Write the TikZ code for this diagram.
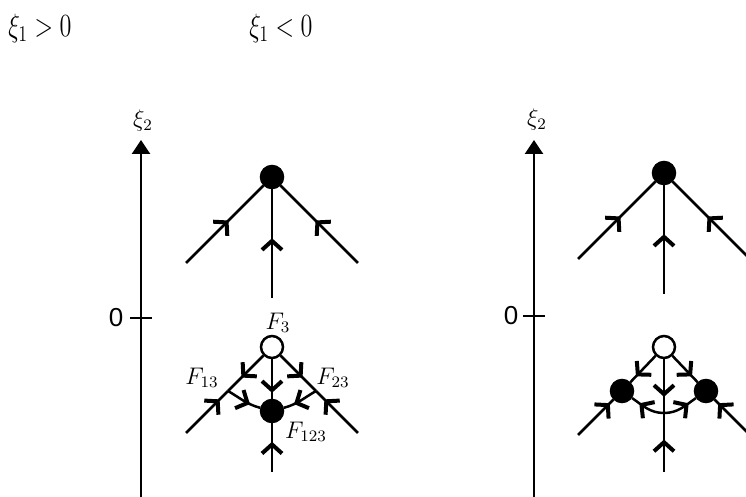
\documentclass[tikz,border=0pt]{standalone}
\usepackage{fontspec}
\usetikzlibrary{arrows.meta,decorations.markings}
\newfontfamily\axfont{Liberation Sans}
\tikzset{chev/.tip={Straight Barb[length=4.5pt, width=10pt, line width=2pt]}}

\begin{document}
\begin{tikzpicture}[x=0.5pt, y=0.5pt, line width=1.25pt,
dotf/.style={draw, circle, fill=black, minimum size=11pt, inner sep=0pt},
doto/.style={draw, circle, fill=white, minimum size=11pt, inner sep=0pt},
flw/.style={postaction={decorate}, decoration={markings, mark=at position #1 with {\arrow{chev}}}},
axs/.style={-{Triangle[length=7pt, width=9pt]}},
lbl/.style={inner sep=0pt, font=\fontsize{12}{14}\selectfont},
ttl/.style={anchor=base west, inner sep=0pt, font=\fontsize{14}{16}\selectfont}
]
\clip (0,0) rectangle (746,497);

% titles
\node[ttl] (t1) at (7,460) {\scalebox{0.84}[1.12]{$\xi_1 > 0$}};
\node[ttl] (t2) at (248,460) {\scalebox{0.84}[1.12]{$\xi_1 < 0$}};

% axes
\coordinate (a1) at (141,0); \coordinate (a1t) at (141,357); \coordinate (z1) at (141,179);
\coordinate (a2) at (534,0); \coordinate (a2t) at (534,357); \coordinate (z2) at (534,181);
\draw[axs] (a1) -- (a1t);
\draw[axs] (a2) -- (a2t);
\draw ([xshift=-5.5pt]z1) -- ([xshift=5.5pt]z1);
\draw ([xshift=-5.5pt]z2) -- ([xshift=5.5pt]z2);
\node[lbl, font=\fontsize{11.5}{13}\selectfont] (x1) at (143,376) {$\xi_2$};
\node[lbl, font=\fontsize{11.5}{13}\selectfont] (x2) at (537,377) {$\xi_2$};
\node[lbl, font=\axfont\fontsize{13}{15}\selectfont] (o1) at (116,179) {0};
\node[lbl, font=\axfont\fontsize{13}{15}\selectfont] (o2) at (511,181) {0};

% xi_1 > 0, top
\node[dotf] (P1) at (272,320) {};
\coordinate (L1) at (186,234); \coordinate (R1) at (358,234); \coordinate (B1) at (272,199);
\foreach \i/\j/\p in {L1/P1/0.55, R1/P1/0.55, B1/P1/0.55}{\draw[flw=\p] (\i) -- (\j);}

% xi_1 > 0, bottom
\node[doto] (O2) at (272,150) {};
\node[dotf] (D2) at (272,86) {};
\coordinate (BL) at (228,106); \coordinate (BR) at (316,106);
\coordinate (L2) at (186,64); \coordinate (R2) at (358,64); \coordinate (B2) at (272,25);
\foreach \i/\j/\p in {O2/BL/0.62, O2/BR/0.62, L2/BL/0.8, R2/BR/0.8, O2/D2/0.85, B2/D2/0.62}{\draw[flw=\p] (\i) -- (\j);}
\draw[flw=0.7] (BL) to[out=-30, in=165] (D2);
\draw[flw=0.7] (BR) to[out=210, in=15] (D2);
\node[lbl] (f3) at (278,174) {$F_3$};
\node[lbl] (f13) at (202,119) {$F_{13}$};
\node[lbl] (f23) at (333,119) {$F_{23}$};
\node[lbl] (f123) at (306,65) {$F_{123}$};

% xi_1 < 0, top
\node[dotf] (P3) at (664,324) {};
\coordinate (L3) at (578,238); \coordinate (R3) at (750,238); \coordinate (B3) at (664,203);
\foreach \i/\j/\p in {L3/P3/0.55, R3/P3/0.55, B3/P3/0.55}{\draw[flw=\p] (\i) -- (\j);}

% xi_1 < 0, bottom
\node[doto] (O4) at (664,150) {};
\node[dotf] (DL) at (622,106) {};
\node[dotf] (DR) at (706,106) {};
\coordinate (M) at (664,84);
\coordinate (L4) at (578,62); \coordinate (R4) at (750,62); \coordinate (B4) at (664,25);
\foreach \i/\j/\p in {O4/DL/0.78, O4/DR/0.78, L4/DL/0.9, R4/DR/0.9, O4/M/0.7, B4/M/0.55}{\draw[flw=\p] (\i) -- (\j);}
\draw[flw=0.75] (M) to[out=180, in=-35] (DL);
\draw[flw=0.75] (M) to[out=0, in=215] (DR);
\end{tikzpicture}
\end{document}
